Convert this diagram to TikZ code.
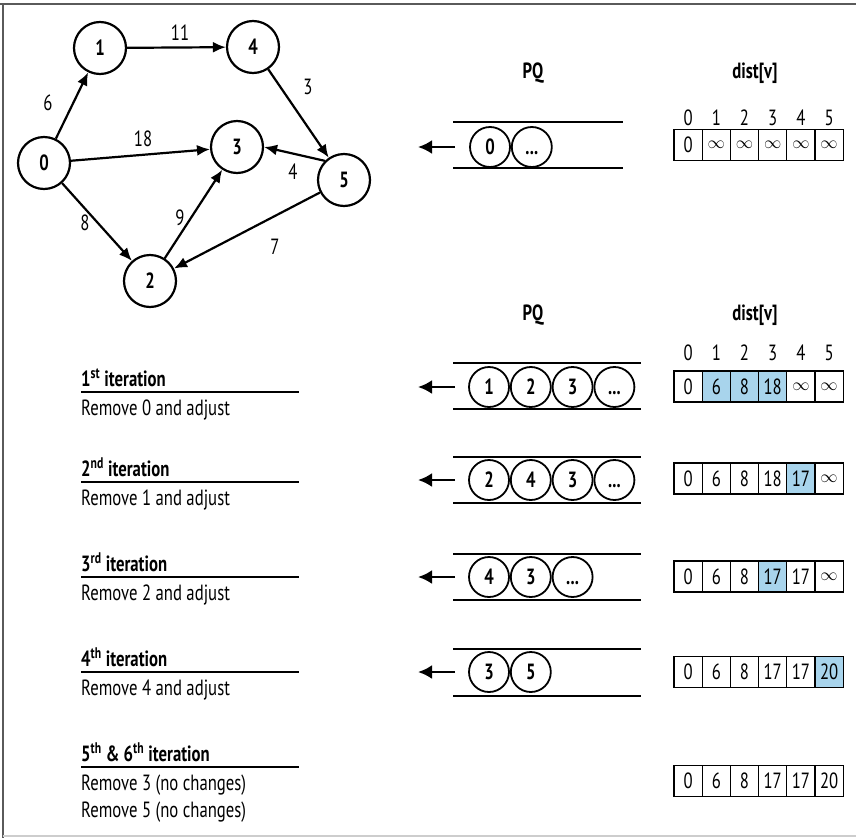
\documentclass[tikz,border=0pt]{standalone}
\usepackage{fontspec}
\setmainfont{PT Sans}[FakeStretch=0.76]
\usetikzlibrary{arrows.meta,positioning}
\definecolor{hlblue}{RGB}{168,212,236}
\definecolor{framedark}{RGB}{90,90,90}
\definecolor{framelight}{RGB}{205,205,205}
\newcommand{\lblfont}{\fontsize{22}{26}\selectfont}
\newcommand{\infsym}{{\fontsize{16}{18}\selectfont$\infty$}}
\tikzset{
  txt/.style={font=\lblfont, inner sep=0pt},
  vert/.style={circle, draw, line width=2.2pt, minimum size=52pt, inner sep=0pt, font=\lblfont\bfseries},
  qitem/.style={circle, draw, line width=1.8pt, minimum size=40pt, inner sep=0pt, text height=15pt, text depth=0pt, font=\lblfont\bfseries},
  cell/.style={rectangle, draw, line width=1.1pt, minimum width=28.2pt, minimum height=31pt, inner sep=0pt, outer sep=0pt, font=\lblfont},
  arr/.style={-{Latex[length=13pt,width=11pt]}, line width=2.2pt},
  pqarr/.style={-{Latex[length=14pt,width=14pt]}, line width=2.6pt},
  tube/.style={line width=1.3pt},
  rulerln/.style={line width=1.5pt},
  head/.style={txt, font=\lblfont\bfseries, anchor=base west},
  note/.style={txt, anchor=base west},
  title/.style={txt, font=\lblfont\bfseries}
}

\begin{document}
\begin{tikzpicture}[x=1pt, y=-1pt]
\useasboundingbox (0,0) rectangle (856,838);
\draw[framedark, line width=1.5pt] (0,4) -- (856,4) (3,4) -- (3,838);
\draw[framelight, line width=1.5pt] (3,836) -- (856,836);

% graph
\node[vert] (n0) at (44,163) {0};
\node[vert] (n1) at (100,48) {1};
\node[vert] (n4) at (253,47) {4};
\node[vert] (n3) at (237,147) {3};
\node[vert] (n5) at (344,180) {5};
\node[vert] (n2) at (150,281) {2};

\draw[arr] (n0) -- (n1); \draw[arr] (n1) -- (n4);
\draw[arr] (n4) -- (n5); \draw[arr] (n0) -- (n3);
\draw[arr] (n5.135) -- (n3.east); \draw[arr] (n0) -- (n2);
\draw[arr] (n2) -- (n3); \draw[arr] (n5) -- (n2);

\node[txt] (w01) at (48,103) {6};
\node[txt] (w14) at (180,33) {11};
\node[txt] (w45) at (308,87) {3};
\node[txt] (w03) at (143,139) {18};
\node[txt] (w53) at (293,172) {4};
\node[txt] (w02) at (85,223) {8};
\node[txt] (w23) at (180,218) {9};
\node[txt] (w52) at (275,247) {7};

% headers
\node[title] (pq0) at (533,73) {PQ};
\node[title] (dv0) at (755,73) {dist[v]};
\node[title] (pq1) at (533,315) {PQ};
\node[title] (dv1) at (755,315) {dist[v]};
\foreach \i in {0,...,5} {
  \node[txt] (ia\i) at (688.1+28.2*\i,118) {\i};
  \node[txt] (ib\i) at (688.1+28.2*\i,353) {\i};
}

% initial queue
\draw[tube] (453,122) -- (623,122) (453,168) -- (623,168);
\node[qitem] (q0a) at (490,147) {0};
\node[qitem, right=0pt of q0a] (q0b) {...};
\coordinate (q0in) at (455,147); \coordinate (q0out) at (418,147);
\draw[pqarr] (q0in) -- (q0out);

% 1st iteration
\draw[tube] (453,363) -- (641,363) (453,409) -- (641,409);
\node[qitem] (q1a) at (489,387) {1};
\node[qitem, right=0pt of q1a] (q1b) {2};
\node[qitem, right=0pt of q1b] (q1c) {3};
\node[qitem, right=0pt of q1c] (q1d) {...};
\coordinate (q1in) at (455,387); \coordinate (q1out) at (418,387);
\draw[pqarr] (q1in) -- (q1out);

% 2nd iteration
\draw[tube] (453,457) -- (641,457) (453,503) -- (641,503);
\node[qitem] (q2a) at (489,480) {2};
\node[qitem, right=0pt of q2a] (q2b) {4};
\node[qitem, right=0pt of q2b] (q2c) {3};
\node[qitem, right=0pt of q2c] (q2d) {...};
\coordinate (q2in) at (455,480); \coordinate (q2out) at (418,480);
\draw[pqarr] (q2in) -- (q2out);

% 3rd iteration
\draw[tube] (453,554) -- (641,554) (453,600) -- (641,600);
\node[qitem] (q3a) at (489,577) {4};
\node[qitem, right=0pt of q3a] (q3b) {3};
\node[qitem, right=0pt of q3b] (q3c) {...};
\coordinate (q3in) at (455,577); \coordinate (q3out) at (418,577);
\draw[pqarr] (q3in) -- (q3out);

% 4th iteration
\draw[tube] (453,649) -- (641,649) (453,696) -- (641,696);
\node[qitem] (q4a) at (489,672) {3};
\node[qitem, right=0pt of q4a] (q4b) {5};
\coordinate (q4in) at (455,672); \coordinate (q4out) at (418,672);
\draw[pqarr] (q4in) -- (q4out);

% dist arrays
\foreach \v/\c [count=\i from 0] in {0/white,\infsym/white,\infsym/white,\infsym/white,\infsym/white,\infsym/white}
  \node[cell, fill=\c] (d0-\i) at (688.1+28.2*\i,145) {\v};
\foreach \v/\c [count=\i from 0] in {0/white,6/hlblue,8/hlblue,18/hlblue,\infsym/white,\infsym/white}
  \node[cell, fill=\c] (d1-\i) at (688.1+28.2*\i,386.5) {\v};
\foreach \v/\c [count=\i from 0] in {0/white,6/white,8/white,18/white,17/hlblue,\infsym/white}
  \node[cell, fill=\c] (d2-\i) at (688.1+28.2*\i,478.5) {\v};
\foreach \v/\c [count=\i from 0] in {0/white,6/white,8/white,17/hlblue,17/white,\infsym/white}
  \node[cell, fill=\c] (d3-\i) at (688.1+28.2*\i,576.5) {\v};
\foreach \v/\c [count=\i from 0] in {0/white,6/white,8/white,17/white,17/white,20/hlblue}
  \node[cell, fill=\c] (d4-\i) at (688.1+28.2*\i,672) {\v};
\foreach \v/\c [count=\i from 0] in {0/white,6/white,8/white,17/white,17/white,20/white}
  \node[cell, fill=\c] (d5-\i) at (688.1+28.2*\i,781) {\v};

% iteration labels
\draw[rulerln] (81,392) -- (299,392);
\node[head] (h1) at (81,386) {1\textsuperscript{st} iteration};
\node[note] (m1) at (81,415) {Remove 0 and adjust};
\draw[rulerln] (81,482) -- (299,482);
\node[head] (h2) at (81,476) {2\textsuperscript{nd} iteration};
\node[note] (m2) at (81,505) {Remove 1 and adjust};
\draw[rulerln] (81,577) -- (299,577);
\node[head] (h3) at (81,571) {3\textsuperscript{rd} iteration};
\node[note] (m3) at (81,600) {Remove 2 and adjust};
\draw[rulerln] (81,672) -- (299,672);
\node[head] (h4) at (81,666) {4\textsuperscript{th} iteration};
\node[note] (m4) at (81,695) {Remove 4 and adjust};
\draw[rulerln] (81,767) -- (299,767);
\node[head] (h5) at (81,761) {5\textsuperscript{th} \& 6\textsuperscript{th} iteration};
\node[note] (m5) at (81,790) {Remove 3 (no changes)};
\node[note] (m6) at (81,817) {Remove 5 (no changes)};
\end{tikzpicture}
\end{document}
